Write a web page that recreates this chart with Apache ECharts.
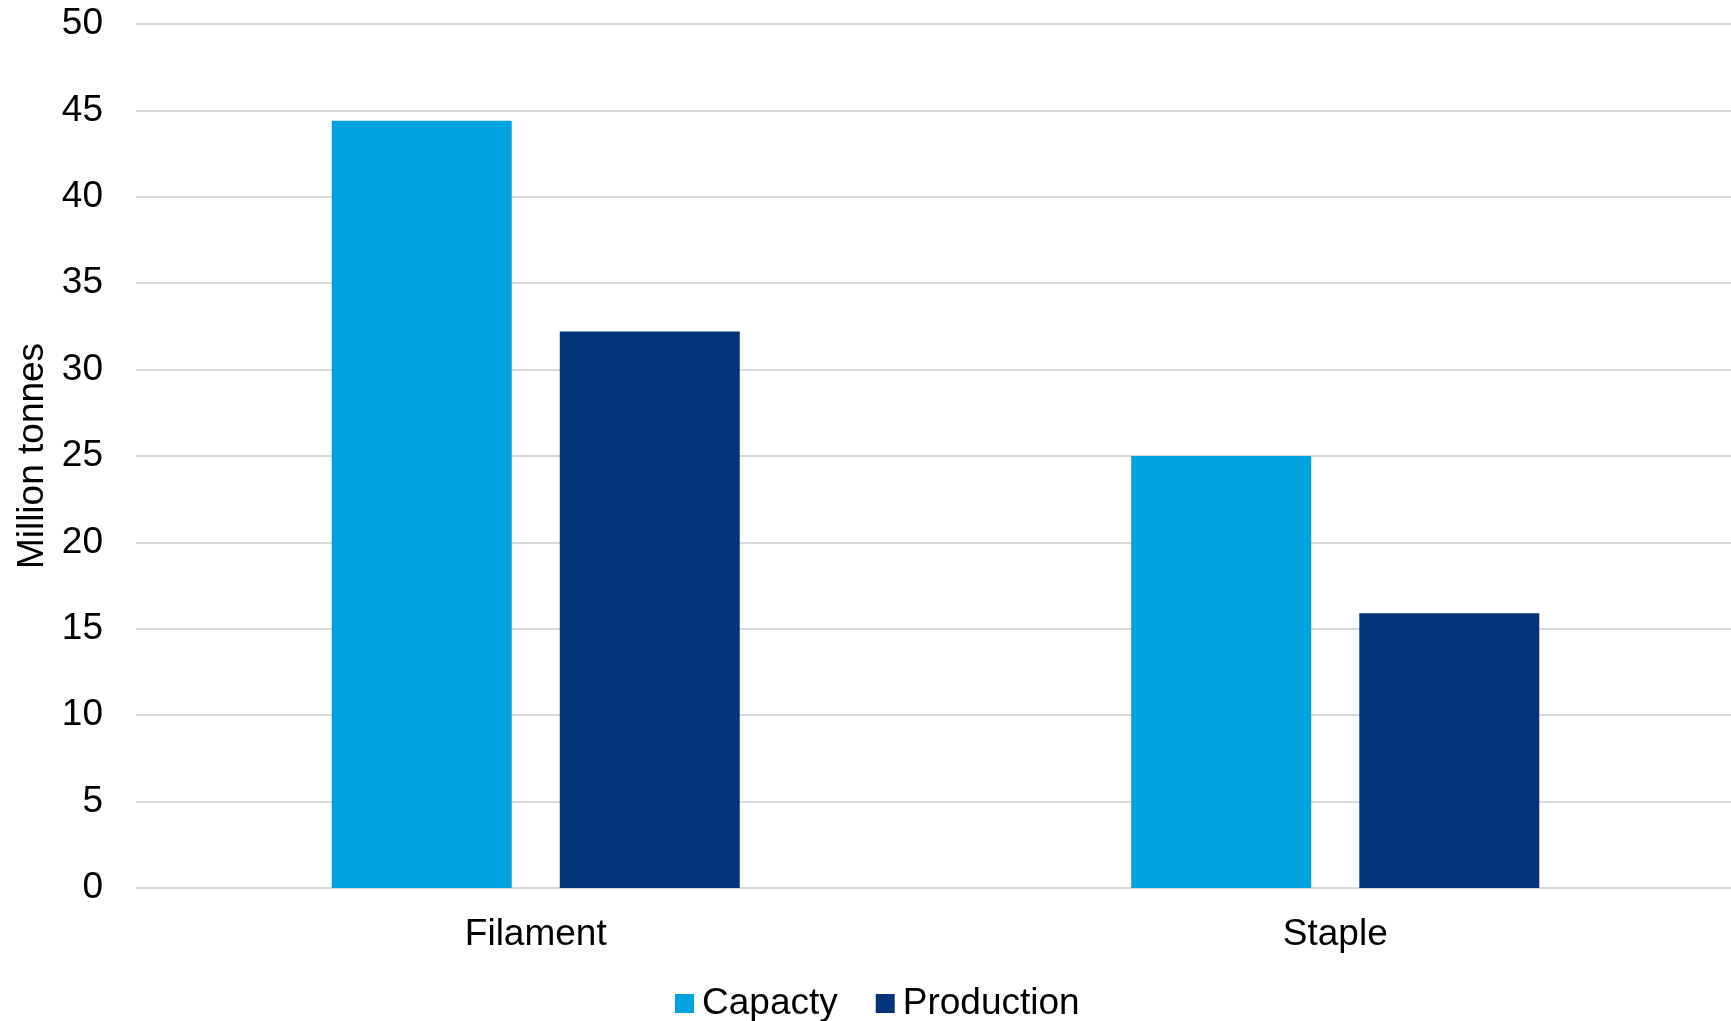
<!DOCTYPE html>
<html>
<head>
<meta charset="utf-8">
<script src="https://cdn.jsdelivr.net/npm/echarts@6/dist/echarts.min.js"></script>
<style>
  html, body { margin: 0; padding: 0; background: #fff; }
  #chart { width: 1731px; height: 1021px; }
</style>
</head>
<body>
<div id="chart"></div>
<script>
// chart data
var categories = ['Filament', 'Staple'];
var capacity = [44.4, 25.0];
var production = [32.2, 15.9];
var yTicks = [0, 50, 5]; // min, max, interval

var font = 'Liberation Sans, Arial, sans-serif';
var fontSize = 37;

var myChart = echarts.init(document.getElementById('chart'));

var option = {
  backgroundColor: '#ffffff',
  animation: false,
  textStyle: { fontFamily: font },
  grid: {
    left: 136,
    top: 24,
    width: 1599,
    bottom: 133,
    outerBoundsMode: 'none'
  },
  legend: {
    data: ['Capacty', 'Production'],
    left: 670,
    top: 980,
    icon: 'rect',
    itemWidth: 19,
    itemHeight: 19,
    itemGap: 38,
    textStyle: { fontSize: fontSize, color: '#000', fontFamily: font, padding: [0, 0, 0, 3] }
  },
  xAxis: {
    type: 'category',
    data: categories,
    axisLine: { show: false },
    axisTick: { show: false },
    axisLabel: { fontSize: fontSize, color: '#000', margin: 28, fontFamily: font }
  },
  yAxis: {
    type: 'value',
    min: yTicks[0],
    max: yTicks[1],
    interval: yTicks[2],
    name: 'Million tonnes',
    nameLocation: 'middle',
    nameGap: 79,
    nameTextStyle: { fontSize: fontSize, color: '#000', fontFamily: font },
    axisLine: { show: false },
    axisTick: { show: false },
    axisLabel: { fontSize: fontSize, color: '#000', margin: 33, fontFamily: font },
    splitLine: { lineStyle: { color: '#d9d9d9', width: 2 } }
  },
  series: [
    {
      name: 'Capacty',
      type: 'bar',
      data: capacity,
      barWidth: 180,
      barGap: '26.7%',
      itemStyle: { color: '#00A3E0' }
    },
    {
      name: 'Production',
      type: 'bar',
      data: production,
      barWidth: 180,
      itemStyle: { color: '#06347A' }
    }
  ]
};

myChart.setOption(option);
</script>
</body>
</html>
